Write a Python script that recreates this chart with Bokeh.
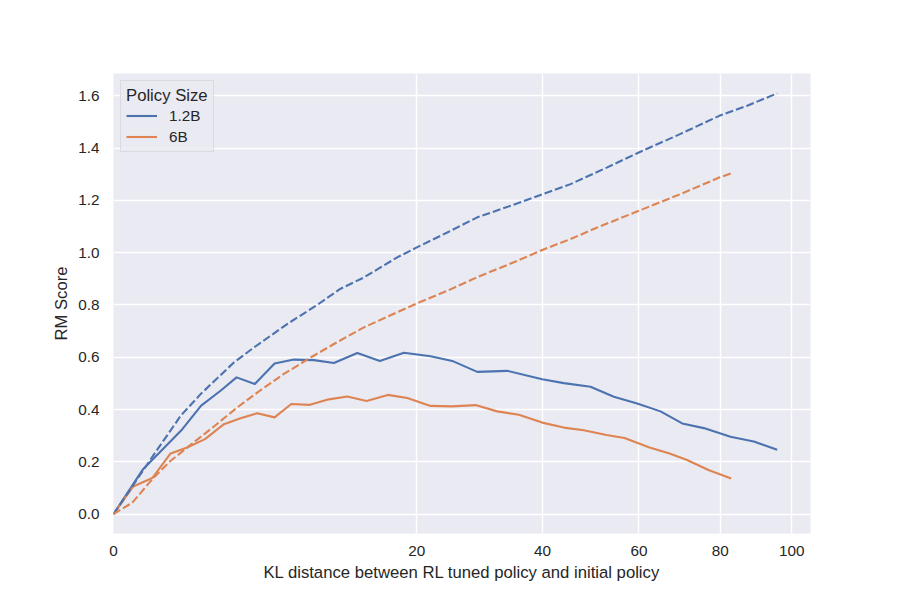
import numpy as np
from bokeh.plotting import figure
from bokeh.models import (FixedTicker, CustomJSTickFormatter, NumeralTickFormatter,
                          Range1d, Legend, LegendItem)
from bokeh.embed import file_html
from bokeh.resources import INLINE

# Gold RM score along the RL run (solid lines)
kl_12b = [0, 0.19, 1.03, 1.67, 2.49, 3.29, 4.34, 5.64, 7.07, 8.73, 10.56, 12.92,
          15.42, 18.33, 21.85, 24.94, 28.76, 33.70, 39.95, 44.08, 49.46, 54.41,
          59.61, 65.04, 70.30, 75.74, 82.74, 89.11, 95.74]
gold_12b = [0.0, 0.172, 0.325, 0.415, 0.472, 0.523, 0.498, 0.576, 0.591, 0.589,
            0.578, 0.616, 0.586, 0.617, 0.604, 0.586, 0.544, 0.548, 0.516, 0.501,
            0.487, 0.449, 0.423, 0.393, 0.347, 0.329, 0.296, 0.278, 0.246]

kl_6b = [0, 0.085, 0.327, 0.709, 1.18, 1.82, 2.65, 3.51, 4.49, 5.64, 6.87, 8.38,
         10.08, 11.88, 13.92, 16.36, 18.76, 21.85, 24.94, 28.49, 32.0, 35.71, 39.95,
         44.08, 48.08, 52.83, 56.76, 62.45, 67.03, 71.37, 76.95, 82.93]
gold_6b = [0.0, 0.106, 0.138, 0.232, 0.255, 0.287, 0.344, 0.367, 0.386, 0.370,
           0.421, 0.418, 0.439, 0.450, 0.433, 0.456, 0.444, 0.414, 0.412, 0.417,
           0.393, 0.380, 0.350, 0.331, 0.321, 0.303, 0.291, 0.255, 0.233, 0.208,
           0.169, 0.136]

# Proxy RM score (dashed lines)
kl_proxy_12b = [0, 0.30, 0.98, 1.65, 3.15, 4.28, 6.56, 9.02, 11.21, 13.62, 17.50,
                20.0, 24.21, 28.76, 34.26, 40.07, 45.40, 52.98, 59.98, 69.88, 79.90,
                87.29, 95.74]
proxy_12b = [0.0, 0.210, 0.376, 0.459, 0.580, 0.637, 0.727, 0.800, 0.862, 0.905,
             0.982, 1.020, 1.077, 1.135, 1.179, 1.224, 1.262, 1.326, 1.383, 1.454,
             1.524, 1.562, 1.609]

kl_proxy_6b = [0, 0.077, 0.34, 0.71, 1.29, 2.05, 3.33, 4.49, 6.31, 8.44, 11.21,
               13.62, 17.50, 20.0, 24.21, 29.01, 34.84, 40.07, 45.40, 50.86, 59.98,
               69.88, 79.90, 82.88]
proxy_6b = [0.0, 0.044, 0.137, 0.204, 0.265, 0.325, 0.408, 0.465, 0.536, 0.599,
            0.665, 0.714, 0.772, 0.806, 0.854, 0.909, 0.963, 1.011, 1.052, 1.096,
            1.160, 1.224, 1.288, 1.303]

kl_ticks = [0, 20, 40, 60, 80, 100]
score_ticks = [0.0, 0.2, 0.4, 0.6, 0.8, 1.0, 1.2, 1.4, 1.6]

BLUE = "#4C72B0"
ORANGE = "#DD8452"
TEXT = "#262626"
FONT = "Liberation Sans"

# x axis uses a square-root scale: positions are sqrt(KL)
sx = np.sqrt

p = figure(width=900, height=600, output_backend="svg", toolbar_location=None,
           x_range=Range1d(0, 10.276), y_range=Range1d(-0.074, 1.685),
           min_border_left=113, min_border_right=90, min_border_top=73,
           min_border_bottom=67)
p.background_fill_color = "#EAEAF2"
p.border_fill_color = "white"
p.outline_line_color = None

xt = FixedTicker(ticks=[float(v) for v in sx(kl_ticks)])
yt = FixedTicker(ticks=score_ticks)
p.xaxis.ticker = xt
p.xgrid.ticker = xt
p.yaxis.ticker = yt
p.ygrid.ticker = yt
p.xaxis.formatter = CustomJSTickFormatter(code="return Math.round(tick * tick).toString();")
p.yaxis.formatter = NumeralTickFormatter(format="0.0")

p.grid.grid_line_color = "white"
p.grid.grid_line_width = 1.4
p.axis.axis_line_color = None
p.axis.major_tick_line_color = None
p.axis.minor_tick_line_color = None
p.axis.major_label_text_font = FONT
p.axis.major_label_text_font_size = "15.3px"
p.axis.major_label_text_color = TEXT
p.axis.axis_label_text_font = FONT
p.axis.axis_label_text_font_size = "16.7px"
p.axis.axis_label_text_font_style = "normal"
p.axis.axis_label_text_color = TEXT
p.xaxis.major_label_standoff = 6
p.yaxis.major_label_standoff = 8
p.xaxis.axis_label_standoff = 4
p.yaxis.axis_label_standoff = 4
p.xaxis.axis_label = "KL distance between RL tuned policy and initial policy"
p.yaxis.axis_label = "RM Score"

r_12b = p.line(sx(kl_12b), gold_12b, line_color=BLUE, line_width=2.1, line_join="round")
r_6b = p.line(sx(kl_6b), gold_6b, line_color=ORANGE, line_width=2.1, line_join="round")
p.line(sx(kl_proxy_12b), proxy_12b, line_color=BLUE, line_width=2.1, line_dash="8 3")
p.line(sx(kl_proxy_6b), proxy_6b, line_color=ORANGE, line_width=2.1, line_dash="8 3")

legend = Legend(
    items=[LegendItem(label="1.2B", renderers=[r_12b]),
           LegendItem(label="6B", renderers=[r_6b])],
    title="Policy Size", location="top_left", margin=7, padding=5, spacing=2,
    glyph_width=31, glyph_height=19, label_height=19, label_standoff=12,
    title_standoff=0,
    title_text_font=FONT, title_text_font_size="16.7px", title_text_font_style="normal",
    title_text_color=TEXT,
    label_text_font=FONT, label_text_font_size="15.3px", label_text_color=TEXT,
    border_line_color="#CCCCCC", border_line_width=1,
    background_fill_color="#EAEAF2", background_fill_alpha=0.8,
)
p.add_layout(legend)

open("out.html", "w").write(file_html(p, INLINE))
